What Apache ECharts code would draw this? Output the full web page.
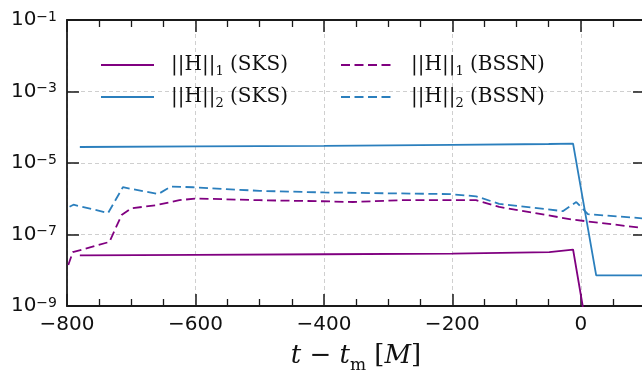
<!DOCTYPE html>
<html>
<head>
<meta charset="utf-8">
<script src="https://cdn.jsdelivr.net/npm/echarts@6/dist/echarts.min.js"></script>
<style>
  html, body { margin: 0; padding: 0; background: #fff; }
  #chart { width: 642px; height: 371px; }
</style>
</head>
<body>
<div id="chart"></div>
<script>
// time axis t - t_m, values of the constraint norms
const tSksH1 = [-780, -600, -400, -200, -49, -12, 3, 15]
const vSksH1 = [2.6e-8, 2.7e-8, 2.8e-8, 2.9e-8, 3.2e-8, 3.8e-8, 1.0e-9, 5.0e-11]

const tSksH2 = [-780, -600, -400, -200, -50, -12, 24, 100]
const vSksH2 = [2.8e-5, 2.9e-5, 3.0e-5, 3.2e-5, 3.4e-5, 3.5e-5, 7.2e-9, 7.2e-9]

const tBssnH1 = [-798, -791, -734, -715, -700, -661, -625, -599, -500, -402, -355, -282, -163, -127, -12, 100]
const vBssnH1 = [1.4e-8, 3.2e-8, 6.2e-8, 3.5e-7, 5.4e-7, 6.6e-7, 9.1e-7, 1.02e-6, 9.1e-7, 8.5e-7, 8.1e-7, 9.1e-7, 9.1e-7, 5.9e-7, 2.6e-7, 1.5e-7]

const tBssnH2 = [-796, -790, -736, -713, -658, -638, -604, -500, -400, -204, -163, -127, -28, -7, 11, 100]
const vBssnH2 = [6.0e-7, 6.8e-7, 4.0e-7, 2.1e-6, 1.35e-6, 2.2e-6, 2.1e-6, 1.66e-6, 1.5e-6, 1.35e-6, 1.17e-6, 7.2e-7, 4.5e-7, 8.1e-7, 3.7e-7, 2.8e-7]

const yTicks = [1e-9, 1e-7, 1e-5, 1e-3, 1e-1]

const PURPLE = '#800080'
const BLUE = '#2b7fbd'

const pairs = (ts, vs) => ts.map((t, i) => [t, vs[i]])

const legendNames = {
  sks1: '||H||{sub|1} (SKS)',
  sks2: '||H||{sub|2} (SKS)',
  bssn1: '||H||{sub|1} (BSSN)',
  bssn2: '||H||{sub|2} (BSSN)'
}

const chart = echarts.init(document.getElementById('chart'), null, { renderer: 'canvas' })

const axisLineStyle = { color: '#1a1a1a', width: 1.8 }
const gridLine = { show: true, lineStyle: { color: '#cfcfcf', width: 1, type: [4, 3] } }
const legendText = {
  fontFamily: 'DejaVu Serif',
  fontSize: 20,
  color: '#111',
  padding: [0, 0, 0, 12],
  rich: {
    sub: { fontFamily: 'DejaVu Serif', fontSize: 13, verticalAlign: 'bottom', lineHeight: 26 }
  }
}

function yLabel(v) {
  const e = Math.round(Math.log10(v))
  return '{b|10}{s|−' + Math.abs(e) + '}'
}

const legendBase = {
  orient: 'vertical', padding: 0, top: 55,
  itemWidth: 53, itemHeight: 14, itemGap: 9,
  itemStyle: { opacity: 0, borderWidth: 0 },
  formatter: n => legendNames[n],
  textStyle: legendText
}

const option = {
  backgroundColor: '#fff',
  animation: false,
  grid: { left: 67, top: 20, width: 578, height: 286, outerBoundsMode: 'none', containLabel: false },
  legend: [
    Object.assign({ left: 100, data: ['sks1', 'sks2'] }, legendBase),
    Object.assign({ left: 340, data: ['bssn1', 'bssn2'] }, legendBase)
  ],
  xAxis: [
    {
      type: 'value', position: 'bottom', min: -800, max: 100, interval: 200,
      axisLine: { show: true, onZero: false, lineStyle: axisLineStyle },
      axisTick: { show: true, inside: true, length: 12, lineStyle: { color: '#1a1a1a', width: 1.5 } },
      minorTick: { show: true, splitNumber: 4, length: 7, lineStyle: { color: '#1a1a1a', width: 1.3 } },
      splitLine: gridLine,
      axisLabel: {
        margin: 9, fontFamily: 'DejaVu Sans', fontSize: 20, color: '#111',
        showMaxLabel: false,
        formatter: v => String(v).replace('-', '−')
      },
      name: '{i|t} − {i|t}{sub|m} [{i|M}]',
      nameLocation: 'middle',
      nameGap: 32,
      nameTextStyle: {
        fontFamily: 'DejaVu Serif', fontSize: 26, color: '#111',
        rich: {
          i: { fontFamily: 'DejaVu Serif', fontStyle: 'italic', fontSize: 26 },
          sub: { fontFamily: 'DejaVu Serif', fontSize: 17, verticalAlign: 'bottom', lineHeight: 36 }
        }
      }
    },
    {
      type: 'value', position: 'top', min: -800, max: 100, interval: 200,
      axisLine: { show: true, onZero: false, lineStyle: axisLineStyle },
      axisTick: { show: true, inside: true, length: 12, lineStyle: { color: '#1a1a1a', width: 1.5 } },
      minorTick: { show: true, splitNumber: 4, length: 7, lineStyle: { color: '#1a1a1a', width: 1.3 } },
      splitLine: { show: false },
      axisLabel: { show: false }
    }
  ],
  yAxis: [
    {
      type: 'log', logBase: 10, min: 1e-9, max: 1e-1, position: 'left',
      axisLine: { show: true, onZero: false, lineStyle: axisLineStyle },
      axisTick: { show: true, inside: true, length: 12, customValues: yTicks, lineStyle: { color: '#1a1a1a', width: 1.5 } },
      minorTick: { show: false },
      splitLine: gridLine,
      axisLabel: {
        margin: 10, color: '#111', customValues: yTicks,
        formatter: yLabel,
        rich: {
          b: { fontFamily: 'DejaVu Sans', fontSize: 20, color: '#111' },
          s: { fontFamily: 'DejaVu Sans', fontSize: 14, color: '#111', verticalAlign: 'top' }
        }
      }
    },
    {
      type: 'log', logBase: 10, min: 1e-9, max: 1e-1, position: 'right',
      axisLine: { show: true, onZero: false, lineStyle: axisLineStyle },
      axisTick: { show: true, inside: true, length: 12, customValues: yTicks, lineStyle: { color: '#1a1a1a', width: 1.5 } },
      minorTick: { show: false },
      splitLine: { show: false },
      axisLabel: { show: false }
    }
  ],
  series: [
    {
      name: 'sks1', type: 'line', symbol: 'none', data: pairs(tSksH1, vSksH1),
      lineStyle: { color: PURPLE, width: 1.8 }, itemStyle: { color: PURPLE }
    },
    {
      name: 'sks2', type: 'line', symbol: 'none', data: pairs(tSksH2, vSksH2),
      lineStyle: { color: BLUE, width: 1.8 }, itemStyle: { color: BLUE }
    },
    {
      name: 'bssn1', type: 'line', symbol: 'none', data: pairs(tBssnH1, vBssnH1),
      lineStyle: { color: PURPLE, width: 1.8, type: [9, 4.5] }, itemStyle: { color: PURPLE }
    },
    {
      name: 'bssn2', type: 'line', symbol: 'none', data: pairs(tBssnH2, vBssnH2),
      lineStyle: { color: BLUE, width: 1.8, type: [9, 4.5] }, itemStyle: { color: BLUE }
    }
  ]
}

chart.setOption(option)
</script>
</body>
</html>
